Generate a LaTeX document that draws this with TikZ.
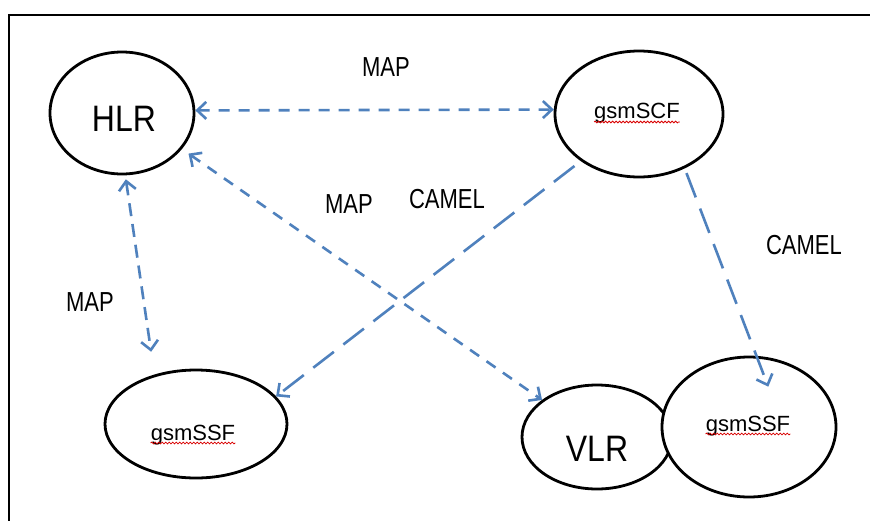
\documentclass[tikz,border=0pt]{standalone}
\usepackage{fontspec}
\setmainfont{Liberation Sans}
\usetikzlibrary{arrows.meta,shapes.geometric,decorations.pathmorphing}
\definecolor{arrowblue}{RGB}{79,129,189}
\newcommand{\vst}[2][1.25]{\scalebox{1}[#1]{#2}}
\begin{document}
\begin{tikzpicture}[x=1pt,y=-1pt,
  >={Straight Barb[length=9pt,width=17pt]},
  ell/.style={draw=black, line width=2.8pt, ellipse, inner sep=0pt, fill=white},
  lbl/.style={font=\fontsize{22}{22}\selectfont, inner sep=0pt, anchor=base},
  big/.style={font=\fontsize{32}{32}\selectfont, inner sep=0pt, anchor=base},
  gsm/.style={font=\fontsize{22}{22}\selectfont, inner sep=0pt, anchor=base},
  conn/.style={draw=arrowblue, line width=2.6pt},
  shortdash/.style={dash pattern=on 11pt off 9pt},
  middash/.style={dash pattern=on 13pt off 8pt},
  longdash/.style={dash pattern=on 26pt off 12pt},
  squig/.style={draw=red!85!black, line width=0.8pt, decorate,
    decoration={snake, amplitude=0.9pt, segment length=3.5pt}}
]
\useasboundingbox (0,0) rectangle (870,520);
\clip (0,0) rectangle (870,520);
\fill[white] (0,0) rectangle (870,520);
\draw[line width=2.5pt] (9,15) rectangle (900,560);

% ellipses
\node[ell, minimum width=144pt, minimum height=122pt] (HLR) at (122,113) {};
\node[ell, minimum width=168pt, minimum height=126pt] (SCF) at (639,114) {};
\node[ell, minimum width=182pt, minimum height=108pt] (SSFL) at (196,424) {};
\node[ell, minimum width=150pt, minimum height=104pt] (VLR) at (597,437) {};
\node[ell, minimum width=174pt, minimum height=140pt] (SSFR) at (749,427) {};

% node texts
\node[big] (HLRt) at (124,131) {\vst[1.15]{HLR}};
\node[big] (VLRt) at (597,461) {\vst[1.15]{VLR}};
\node[gsm] (SCFt) at (637,118) {gsmSCF};
\node[gsm] (SSFLt) at (193,440) {gsmSSF};
\node[gsm] (SSFRt) at (748,431) {gsmSSF};
\draw[squig] ([yshift=-4pt]SCFt.base west) -- ([yshift=-4pt]SCFt.base east);
\draw[squig] ([yshift=-3pt]SSFLt.base west) -- ([yshift=-3pt]SSFLt.base east);
\draw[squig] ([yshift=-3pt]SSFRt.base west) -- ([yshift=-3pt]SSFRt.base east);

% labels
\node[lbl] (map1) at (386,76) {\vst{MAP}};
\node[lbl] (map2) at (349,213) {\vst{MAP}};
\node[lbl] (camel1) at (447,208) {\vst{CAMEL}};
\node[lbl] (camel2) at (804,254) {\vst{CAMEL}};
\node[lbl] (map3) at (90,311) {\vst{MAP}};

% connectors
\draw[conn, shortdash, <->] (HLR.2) -- (SCF.177);
\draw[conn, middash, <->, shorten <=4pt, shorten >=23pt] (HLR.-87.7) -- (SSFL.130);
\draw[conn, shortdash, <->, shorten <=8pt] (HLR.-31.3) -- (VLR.146);
\draw[conn, longdash, ->, shorten <=8pt] (SCF.-141.3) -- (SSFL.19.3);
\draw[conn, longdash, ->, shorten <=5pt, shorten >=-33pt] (SCF.-50.4) -- (SSFR.84.1);
\end{tikzpicture}
\end{document}
